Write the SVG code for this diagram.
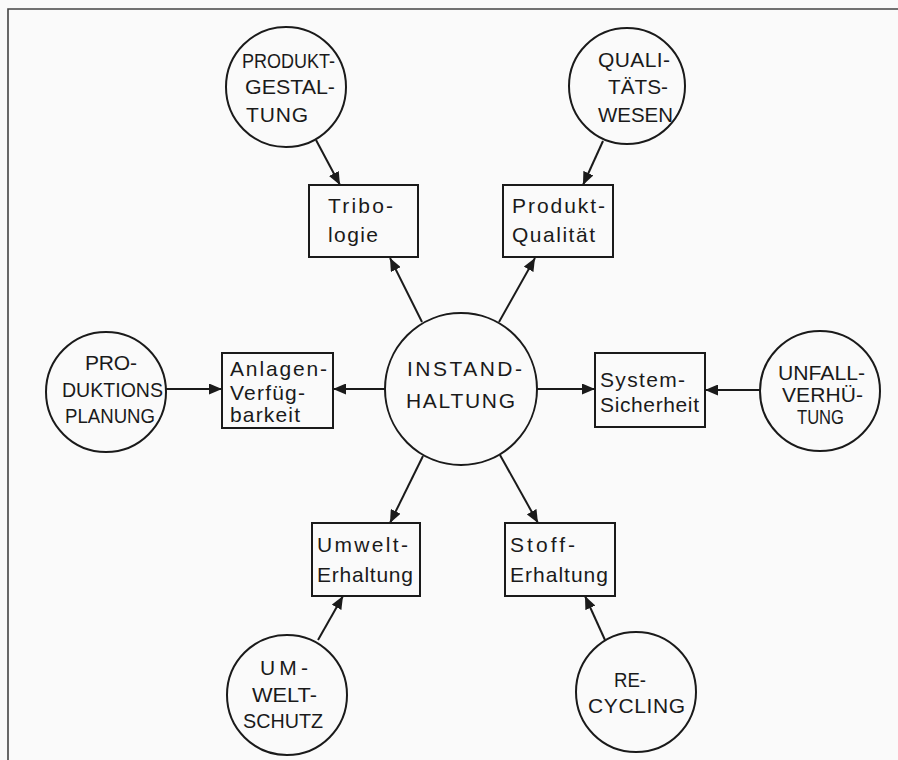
<svg xmlns="http://www.w3.org/2000/svg" width="898" height="760" viewBox="0 0 898 760">
<style>
.n{fill:none;stroke:#1a1a1a;stroke-width:2}
.t{font-family:"Liberation Sans","DejaVu Sans",sans-serif;font-size:21px;fill:#1a1a1a}
.c{stroke:#1a1a1a;stroke-width:2;fill:none;marker-end:url(#ah)}
</style>
<defs>
<marker id="ah" markerUnits="userSpaceOnUse" markerWidth="14" markerHeight="11" refX="13" refY="5.5" orient="auto">
<path d="M0,0 L13,5.5 L0,11 z" fill="#1a1a1a"/>
</marker>
</defs>
<rect width="898" height="760" fill="#fafafa"/>
<path d="M8,760 V9 H898" fill="none" stroke="#444" stroke-width="1.6"/>
<g id="connectors">
<line class="c" x1="422" y1="322" x2="390" y2="258"/>
<line class="c" x1="499" y1="322" x2="535" y2="258"/>
<line class="c" x1="385" y1="389" x2="333" y2="389"/>
<line class="c" x1="537" y1="389" x2="595" y2="389"/>
<line class="c" x1="423" y1="456" x2="390" y2="523"/>
<line class="c" x1="500" y1="455" x2="538" y2="523"/>
<line class="c" x1="316" y1="140" x2="340" y2="185"/>
<line class="c" x1="603" y1="141" x2="583" y2="185"/>
<line class="c" x1="166" y1="389" x2="222" y2="389"/>
<line class="c" x1="760" y1="390" x2="705" y2="390"/>
<line class="c" x1="318" y1="640" x2="343" y2="596"/>
<line class="c" x1="605" y1="640" x2="585" y2="596"/>
</g>
<g id="instandhaltung">
<circle class="n" cx="461" cy="389" r="76"/>
<text class="t" x="407" y="376" textLength="115" lengthAdjust="spacing">INSTAND-</text>
<text class="t" x="406" y="408" textLength="109" lengthAdjust="spacing">HALTUNG</text>
</g>
<g id="produktgestaltung">
<circle class="n" cx="286" cy="87" r="60"/>
<text class="t" x="242" y="68" textLength="93" lengthAdjust="spacingAndGlyphs">PRODUKT-</text>
<text class="t" x="245" y="94" textLength="90" lengthAdjust="spacingAndGlyphs">GESTAL-</text>
<text class="t" x="246" y="122" textLength="62" lengthAdjust="spacing">TUNG</text>
</g>
<g id="qualitaetswesen">
<circle class="n" cx="627" cy="86" r="58"/>
<text class="t" x="598" y="67" textLength="72" lengthAdjust="spacing">QUALI-</text>
<text class="t" x="608" y="94" textLength="60" lengthAdjust="spacingAndGlyphs">TÄTS-</text>
<text class="t" x="598" y="122" textLength="75" lengthAdjust="spacingAndGlyphs">WESEN</text>
</g>
<g id="tribologie">
<rect class="n" x="309" y="185" width="109" height="72"/>
<text class="t" x="328" y="213" textLength="65" lengthAdjust="spacing">Tribo-</text>
<text class="t" x="328" y="242" textLength="50" lengthAdjust="spacing">logie</text>
</g>
<g id="produktqualitaet">
<rect class="n" x="503" y="185" width="110" height="72"/>
<text class="t" x="512" y="213" textLength="93" lengthAdjust="spacing">Produkt-</text>
<text class="t" x="512" y="242" textLength="83" lengthAdjust="spacing">Qualität</text>
</g>
<g id="produktionsplanung">
<circle class="n" cx="106" cy="392" r="60"/>
<text class="t" x="85" y="370" textLength="52" lengthAdjust="spacing">PRO-</text>
<text class="t" x="62" y="397" textLength="101" lengthAdjust="spacingAndGlyphs">DUKTIONS</text>
<text class="t" x="65" y="423" textLength="90" lengthAdjust="spacingAndGlyphs">PLANUNG</text>
</g>
<g id="anlagenverfuegbarkeit">
<rect class="n" x="222" y="353" width="111" height="75"/>
<text class="t" x="230" y="376" textLength="97" lengthAdjust="spacing">Anlagen-</text>
<text class="t" x="230" y="400" textLength="75" lengthAdjust="spacing">Verfüg-</text>
<text class="t" x="230" y="422" textLength="70" lengthAdjust="spacing">barkeit</text>
</g>
<g id="systemsicherheit">
<rect class="n" x="595" y="353" width="110" height="74"/>
<text class="t" x="600" y="387" textLength="85" lengthAdjust="spacing">System-</text>
<text class="t" x="600" y="412" textLength="99" lengthAdjust="spacing">Sicherheit</text>
</g>
<g id="unfallverhuetung">
<circle class="n" cx="820" cy="391" r="60"/>
<text class="t" x="778" y="380" textLength="87" lengthAdjust="spacingAndGlyphs">UNFALL-</text>
<text class="t" x="782" y="402" textLength="81" lengthAdjust="spacing">VERHÜ-</text>
<text class="t" x="797" y="424" textLength="47" lengthAdjust="spacingAndGlyphs">TUNG</text>
</g>
<g id="umwelterhaltung">
<rect class="n" x="312" y="523" width="108" height="73"/>
<text class="t" x="317" y="552" textLength="91" lengthAdjust="spacing">Umwelt-</text>
<text class="t" x="317" y="582" textLength="96" lengthAdjust="spacing">Erhaltung</text>
</g>
<g id="stofferhaltung">
<rect class="n" x="505" y="523" width="110" height="73"/>
<text class="t" x="510" y="552" textLength="65" lengthAdjust="spacing">Stoff-</text>
<text class="t" x="510" y="582" textLength="98" lengthAdjust="spacing">Erhaltung</text>
</g>
<g id="umweltschutz">
<circle class="n" cx="287" cy="695" r="60"/>
<text class="t" x="260" y="675" textLength="48" lengthAdjust="spacing">UM-</text>
<text class="t" x="252" y="702" textLength="65" lengthAdjust="spacingAndGlyphs">WELT-</text>
<text class="t" x="243" y="728" textLength="80" lengthAdjust="spacingAndGlyphs">SCHUTZ</text>
</g>
<g id="recycling">
<circle class="n" cx="636" cy="692" r="60"/>
<text class="t" x="614" y="687" textLength="32" lengthAdjust="spacingAndGlyphs">RE-</text>
<text class="t" x="588" y="713" textLength="97" lengthAdjust="spacing">CYCLING</text>
</g>
</svg>
